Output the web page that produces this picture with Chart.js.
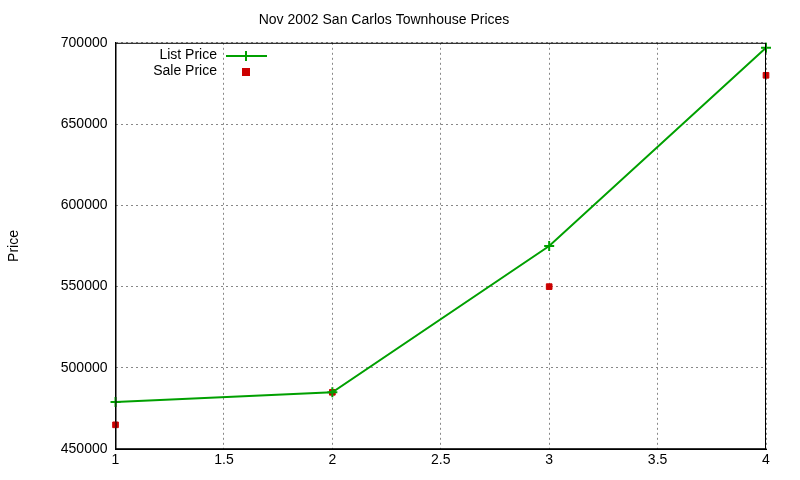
<!DOCTYPE html>
<html>
<head>
<script src="https://cdn.jsdelivr.net/npm/chart.js@4"></script>
<style>
  body { margin: 0; background: #fff; }
  #wrap { width: 800px; height: 480px; }
</style>
</head>
<body>
<div id="wrap"><canvas id="chart"></canvas></div>
<script>
const xValues = [1, 2, 3, 4];
const listPrice = [479000, 485000, 575000, 697000];
const salePrice = [465000, 485000, 550000, 680000];

const pts = (ys) => xValues.map((x, i) => ({ x: x, y: ys[i] }));
const FONT = '"Liberation Sans", Arial, sans-serif';

// legend and frame drawn by hand, like gnuplot
const gnuLegend = {
  id: 'gnuLegend',
  afterDraw(chart) {
    const c = chart.ctx;
    const a = chart.chartArea;
    c.save();
    c.strokeStyle = '#000';
    c.lineWidth = 1;
    c.strokeRect(a.left + 0.5, a.top + 0.5, a.right - a.left - 1, a.bottom - a.top - 1);
    c.font = '14px ' + FONT;
    c.fillStyle = '#000';
    c.textAlign = 'right';
    c.textBaseline = 'middle';
    c.fillText('List Price', 217, 55);
    c.fillText('Sale Price', 217, 71);
    c.strokeStyle = '#00a000';
    c.lineWidth = 2;
    c.beginPath(); c.moveTo(226, 56); c.lineTo(267, 56); c.stroke();
    c.beginPath(); c.moveTo(246, 51); c.lineTo(246, 61); c.stroke();
    c.fillStyle = '#cc0000';
    c.fillRect(242, 68, 8, 8);
    c.restore();
  }
};

new Chart(document.getElementById('chart'), {
  type: 'scatter',
  data: {
    datasets: [
      {
        label: 'List Price',
        data: pts(listPrice),
        showLine: true,
        borderColor: '#00a000',
        backgroundColor: '#00a000',
        borderWidth: 2,
        pointStyle: 'crossRot',
        rotation: 45,
        pointRadius: 5,
        pointBorderWidth: 2,
        clip: false
      },
      {
        label: 'Sale Price',
        data: pts(salePrice),
        showLine: false,
        borderColor: '#cc0000',
        backgroundColor: '#cc0000',
        pointStyle: 'rect',
        pointRadius: 4,
        clip: false
      }
    ]
  },
  options: {
    responsive: true,
    maintainAspectRatio: false,
    animation: false,
    layout: { padding: { top: 10, right: 34, left: 2, bottom: 8 } },
    plugins: {
      legend: { display: false },
      tooltip: { enabled: false },
      title: {
        display: true,
        text: 'Nov 2002 San Carlos Townhouse Prices',
        color: '#000',
        font: { size: 14, family: FONT, weight: 'normal' },
        padding: { top: 2, bottom: 14 }
      }
    },
    scales: {
      x: {
        type: 'linear',
        min: 1, max: 4,
        ticks: { stepSize: 0.5, color: '#000', font: { size: 14, family: FONT }, callback: v => String(v) },
        grid: { color: '#888', drawTicks: false },
        border: { color: '#000', width: 1, dash: [2, 3] }
      },
      y: {
        min: 450000, max: 700000,
        ticks: { stepSize: 50000, color: '#000', padding: 8, font: { size: 14, family: FONT }, callback: v => String(v) },
        grid: { color: '#888', drawTicks: false },
        border: { color: '#000', width: 1, dash: [2, 3] },
        title: { display: true, text: 'Price', color: '#000', padding: { bottom: 30 }, font: { size: 14, family: FONT } }
      }
    }
  },
  plugins: [gnuLegend]
});
</script>
</body>
</html>
